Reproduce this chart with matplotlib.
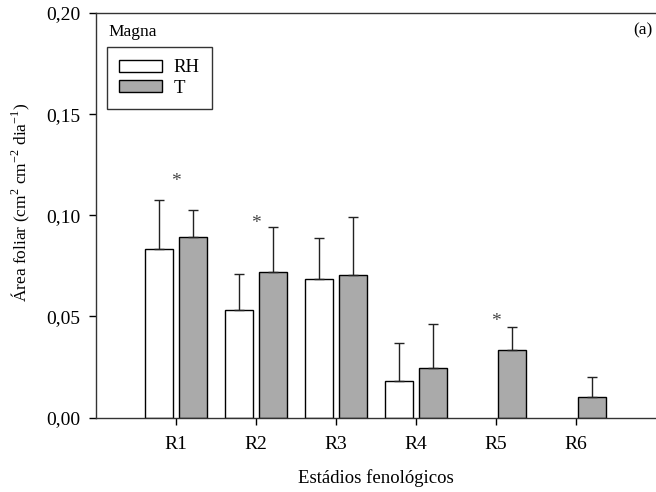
import numpy as np
from matplotlib import pyplot as plt

plt.rcParams['font.family'] = ['Liberation Serif', 'DejaVu Serif']
plt.rcParams['mathtext.fontset'] = 'custom'
plt.rcParams['mathtext.rm'] = 'Liberation Serif'

stages = ['R1', 'R2', 'R3', 'R4', 'R5', 'R6']
rh_mean = [0.0835, 0.0533, 0.0686, 0.0178, 0.0, 0.0]
rh_err = [0.0241, 0.0175, 0.0203, 0.0188, 0.0, 0.0]
t_mean = [0.0891, 0.0721, 0.0706, 0.0243, 0.0334, 0.0102]
t_err = [0.0134, 0.0221, 0.0287, 0.0220, 0.0114, 0.0096]
# asterisks (position index, height)
star_idx = [0, 1, 4]
star_y = [0.1165, 0.0960, 0.0474]

x = np.arange(1, len(stages) + 1)
w = 0.35
off = 0.21

fig = plt.figure(figsize=(6.56, 4.92), dpi=100)
ax = fig.add_axes([96 / 656, 1 - 417.5 / 492, 0.853, (417.5 - 13) / 492])

has_rh = np.array(rh_mean) > 0
ax.bar(x[has_rh] - off, np.array(rh_mean)[has_rh], w, color='white',
       edgecolor='black', linewidth=1.0, label='RH', zorder=2)
ax.errorbar(x[has_rh] - off, np.array(rh_mean)[has_rh],
            yerr=[np.zeros(has_rh.sum()), np.array(rh_err)[has_rh]],
            fmt='none', ecolor='#222222', elinewidth=1.0, capsize=3.6, capthick=1.0)
ax.bar(x + off, t_mean, w, color='#aaaaaa', edgecolor='black',
       linewidth=1.0, label='T', zorder=2)
ax.errorbar(x + off, t_mean, yerr=[np.zeros(len(x)), t_err],
            fmt='none', ecolor='#222222', elinewidth=1.0, capsize=3.6, capthick=1.0)

for i, yy in zip(star_idx, star_y):
    ax.text(x[i], yy, '*', ha='center', va='center', fontsize=14, color='#444444')

ax.set_xlim(0, 7)
ax.set_ylim(0, 0.20)
ax.set_xticks(x)
ax.set_xticklabels(stages)
ax.set_yticks([0, 0.05, 0.10, 0.15, 0.20])
ax.set_yticklabels(['0,00', '0,05', '0,10', '0,15', '0,20'])
ax.tick_params(axis='both', direction='out', length=5, width=1, labelsize=14)
ax.tick_params(axis='x', pad=8)
ax.tick_params(axis='y', pad=6)
ax.spines['right'].set_visible(False)
for s in ['left', 'bottom', 'top']:
    ax.spines[s].set_linewidth(1.0)
    ax.spines[s].set_color('#333333')

ax.set_xlabel('Estádios fenológicos', fontsize=13.5, labelpad=12)
ax.set_ylabel('Área foliar (cm$^{2}$ cm$^{-2}$ dia$^{-1}$)', fontsize=12.5)
ax.yaxis.set_label_coords(-0.115, 0.533)

fig.text(108 / 656, 1 - 32 / 492, 'Magna', fontsize=12.5, va='center', ha='left')
fig.text(653 / 656, 1 - 30 / 492, '(a)', fontsize=12.5, va='center', ha='right')

leg = ax.legend(loc='upper left', bbox_to_anchor=(107 / 656, 1 - 47 / 492),
                bbox_transform=fig.transFigure, borderaxespad=0, fontsize=13.5,
                fancybox=False, frameon=True, handlelength=2.3, handleheight=0.6,
                labelspacing=0.2, borderpad=0.65, handletextpad=0.6)
leg.get_frame().set_edgecolor('black')
leg.get_frame().set_linewidth(1.0)

plt.savefig('out.png', dpi=100)
